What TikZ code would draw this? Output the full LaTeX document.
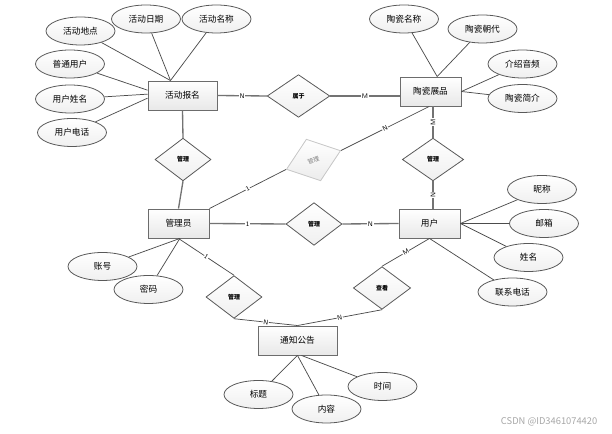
\documentclass[tikz,border=0pt]{standalone}
\usepackage{fontspec}
\newfontfamily\cjk{Noto Sans CJK SC}
\usetikzlibrary{shapes.geometric}
\begin{document}
\begin{tikzpicture}[x=0.75pt,y=-0.75pt,
  every node/.style={font=\cjk\fontsize{6.5}{7}\selectfont},
  entity/.style={draw=gray!85!black,line width=0.7pt,rectangle,top color=white,bottom color=gray!18,minimum height=21.75pt,inner sep=1pt},
  attr/.style={draw=gray!70!black,line width=0.6pt,ellipse,top color=white,bottom color=gray!12,minimum width=51.75pt,minimum height=21pt,inner sep=0pt},
  rel/.style={draw=gray!70!black,line width=0.6pt,diamond,top color=white,bottom color=gray!12,minimum width=42pt,minimum height=32pt,inner sep=0pt,font=\cjk\bfseries\fontsize{4.5}{5}\selectfont},
  ghost/.style={draw=gray!45,line width=0.6pt,diamond,top color=white,bottom color=gray!15,minimum width=43pt,minimum height=33pt,inner sep=0pt,text=gray,font=\cjk\fontsize{4.5}{5}\selectfont},
  aline/.style={draw=gray!60!black,line width=0.55pt},
  rline/.style={draw=gray!90!black,line width=1pt},
  lbl/.style={fill=white,inner sep=0.4pt,font=\sffamily\fontsize{5}{5}\selectfont}
]
\useasboundingbox (0,0) rectangle (612,434);
% entities
\node[entity,minimum width=51.75pt] (hdbm) at (182.5,95.5) {活动报名};
\node[entity,minimum width=45.75pt] (tczp) at (430.5,91.5) {陶瓷展品};
\node[entity,minimum width=45.75pt] (gly) at (178.5,223.5) {管理员};
\node[entity,minimum width=45.75pt] (yh) at (429.5,223.5) {用户};
\node[entity,minimum width=59.25pt] (tzgg) at (297.5,340.5) {通知公告};
% attributes
\node[attr] (hddd) at (80.5,31) {活动地点};
\node[attr] (hdrq) at (146,19) {活动日期};
\node[attr] (hdmc) at (216.5,19) {活动名称};
\node[attr] (ptyh) at (70,64) {普通用户};
\node[attr] (yhxm) at (70,99) {用户姓名};
\node[attr] (yhdh) at (72,132.5) {用户电话};
\node[attr] (tcmc) at (404,19) {陶瓷名称};
\node[attr] (tccd) at (482.5,29) {陶瓷朝代};
\node[attr] (jsyp) at (522.5,64) {介绍音频};
\node[attr] (tcjj) at (522.5,98.5) {陶瓷简介};
\node[attr] (nc) at (542,189.5) {昵称};
\node[attr] (yx) at (544,223.5) {邮箱};
\node[attr] (xm) at (528.5,257.5) {姓名};
\node[attr] (lxdh) at (512.5,292) {联系电话};
\node[attr] (zh) at (102.5,266.5) {账号};
\node[attr] (mm) at (148.5,289.5) {密码};
\node[attr] (bt) at (258.5,394.5) {标题};
\node[attr] (nr) at (326.5,409) {内容};
\node[attr] (sj) at (382.5,386.5) {时间};
% relationships
\node[rel,minimum width=47pt] (sy) at (298.5,96) {属于};
\node[rel] (gl1) at (183,159.5) {管理};
\node[ghost,rotate=19] (gl2) at (313.5,160) {管理};
\node[rel,minimum width=46pt] (gl3) at (433,159.5) {管理};
\node[rel] (gl4) at (314,224) {管理};
\node[rel] (gl5) at (234,297) {管理};
\node[rel,minimum width=43pt] (ck) at (382,288) {查看};
% attribute lines
\draw[aline] (hddd) -- ([xshift=-9pt]hdbm.north);
\draw[aline] (hdrq) -- ([xshift=-9pt]hdbm.north);
\draw[aline] (hdmc) -- ([xshift=-9pt]hdbm.north);
\draw[aline] (ptyh) -- ([yshift=4pt]hdbm.west);
\draw[aline] (yhxm) -- ([yshift=1pt]hdbm.west);
\draw[aline] (yhdh) -- ([yshift=-2pt]hdbm.west);
\draw[aline] (tcmc) -- ([xshift=5pt]tczp.north);
\draw[aline] (tccd) -- ([xshift=5pt]tczp.north);
\draw[aline] (jsyp) -- (tczp.east);
\draw[aline] (tcjj) -- (tczp.east);
\draw[aline] (nc) -- (yh.east);
\draw[aline] (yx) -- (yh.east);
\draw[aline] (xm) -- (yh.east);
\draw[aline] (lxdh) -- (yh.south);
\draw[aline] (zh) -- ([xshift=1pt]gly.south);
\draw[aline] (mm) -- ([xshift=1pt]gly.south);
\draw[aline] (bt) -- (tzgg.south);
\draw[aline] (nr) -- (tzgg.south);
\draw[aline] (sj) -- ([xshift=3pt]tzgg.south);
% relationship lines
\draw[rline] (hdbm.east) -- node[lbl]{N} (sy.west);
\draw[rline] (sy.east) -- node[lbl]{M} (sy.east -| tczp.west);
\draw[rline] (hdbm.south) -- (gl1.north);
\draw[rline] (gl1.south) -- (gly.north);
\draw[aline] (gly.north east) -- node[lbl,sloped]{1} (gl2.west);
\draw[aline] (gl2.east) -- node[lbl,sloped]{N} ([xshift=-1pt]tczp.south);
\draw[rline] (tczp.south -| gl3.north) -- node[lbl,rotate=90]{M} (gl3.north);
\draw[rline] (gl3.south) -- node[lbl,rotate=90]{N} (gl3.south |- yh.north);
\draw[rline] (gly.east) -- node[lbl]{1} (gl4.west);
\draw[rline] (gl4.east) -- node[lbl]{N} (yh.west);
\draw[aline] (gly.south) -- node[lbl,sloped]{1} (gl5.north);
\draw[aline] (gl5.south) -- node[lbl,sloped]{N} (tzgg.north);
\draw[aline] (yh.south) -- node[lbl,sloped]{M} (ck.north);
\draw[aline] (ck.south) -- node[lbl,sloped]{N} (tzgg.north);
% watermark
\node[anchor=east,text=gray!70,font=\cjk\fontsize{7}{8}\selectfont] (wm) at (602,422) {CSDN @ID3461074420};
\end{tikzpicture}
\end{document}
